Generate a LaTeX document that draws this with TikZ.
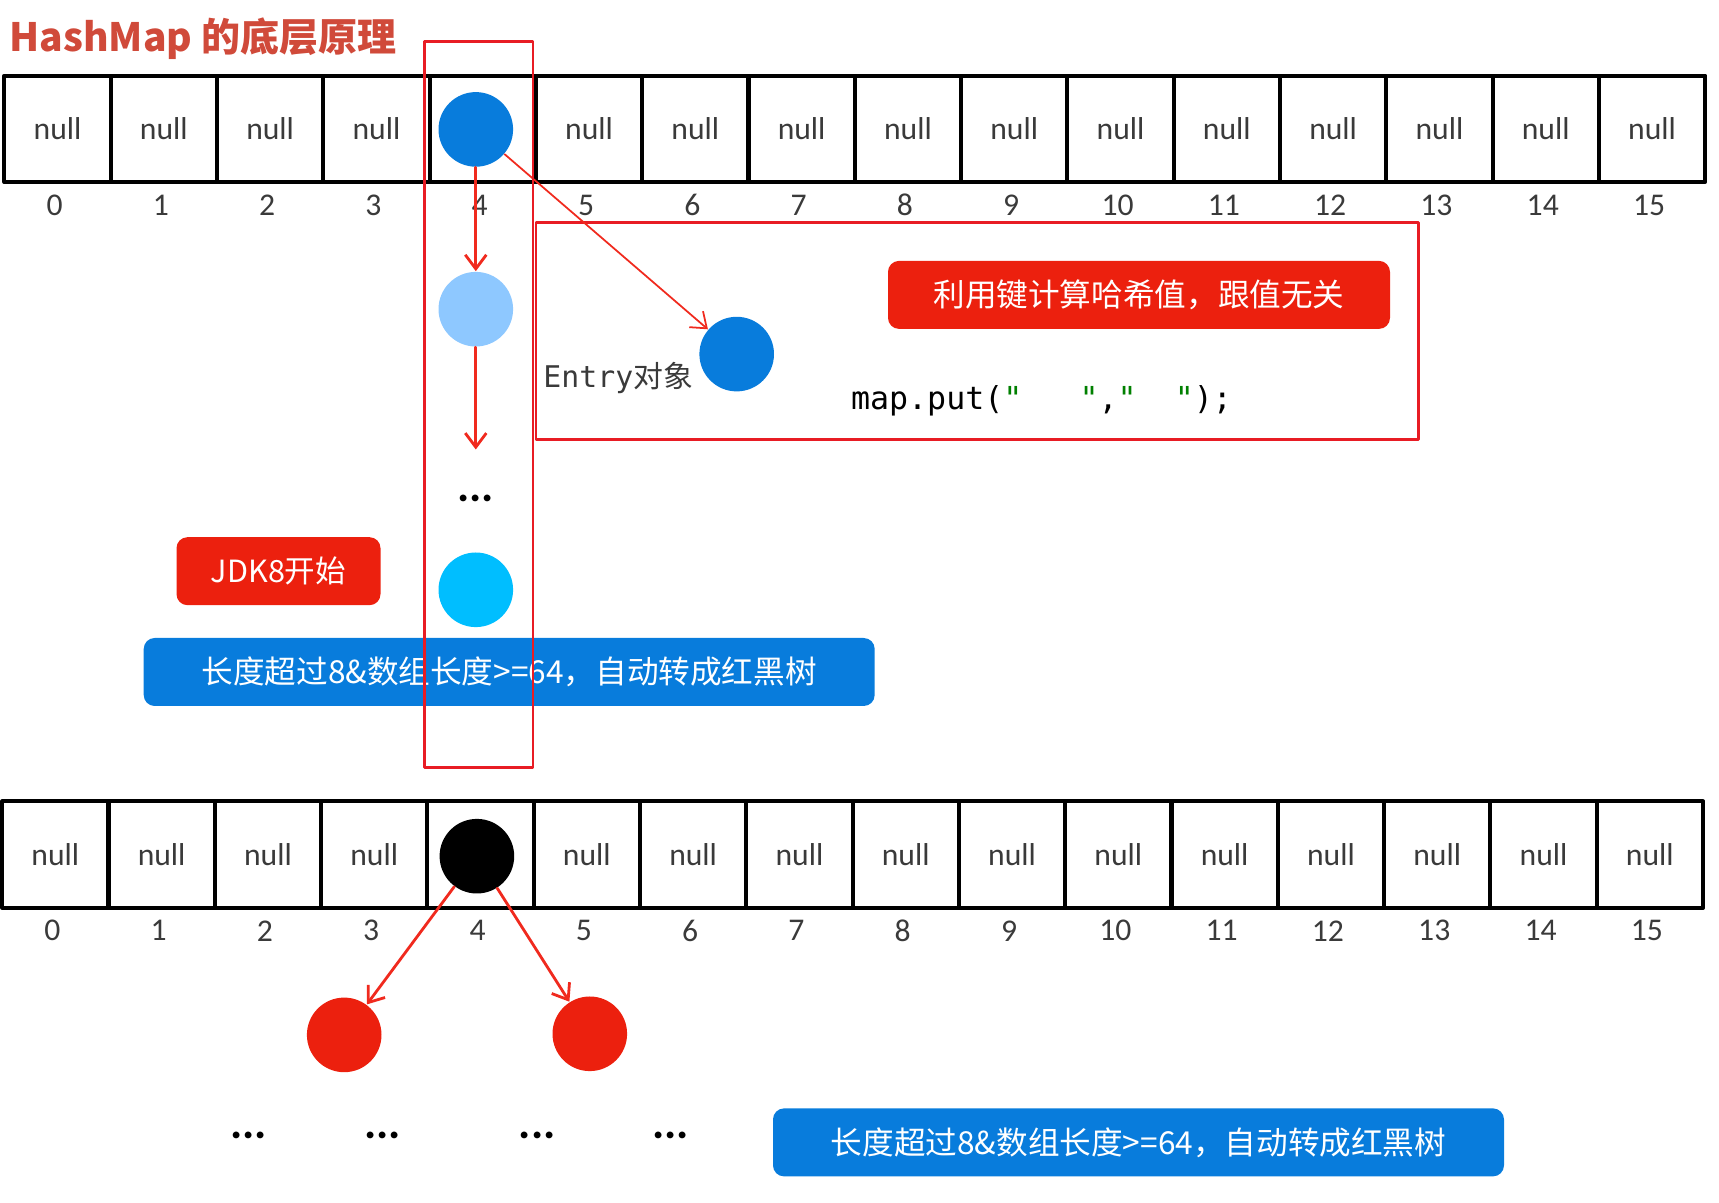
\documentclass[tikz,border=0pt]{standalone}
\usepackage{fontspec}
\setmainfont{Noto Sans CJK SC}
\setmonofont{DejaVu Sans Mono}
\newfontfamily\cellfont{Carlito}
\usepackage{tikz}
\usetikzlibrary{arrows.meta}
\definecolor{titlered}{RGB}{208,74,58}
\definecolor{boxred}{RGB}{236,32,14}
\definecolor{framered}{RGB}{232,28,36}
\definecolor{linkred}{RGB}{240,42,30}
\definecolor{nodeblue}{RGB}{8,124,220}
\definecolor{lightblue}{RGB}{142,200,255}
\definecolor{skyblue}{RGB}{0,190,255}
\definecolor{textgray}{RGB}{58,58,58}
\definecolor{codegreen}{RGB}{0,128,0}
\tikzset{
  every picture/.style={line join=round, line cap=round, >=Stealth},
  cell/.style={draw=black, line width=1.15pt, minimum size=1.063cm, inner sep=0pt, text=textgray, font=\cellfont\fontsize{9}{10}\selectfont},
  idx/.style={text=textgray, font=\cellfont\fontsize{9}{10}\selectfont},
  bucket/.style={circle, inner sep=0pt, minimum size=0.746cm},
  tag/.style={rounded corners=0.11cm, text=white, inner sep=0pt, minimum height=0.68cm},
  redframe/.style={draw=framered, line width=0.75pt, inner sep=0pt},
  link/.style={linkred, line width=0.8pt, -{Straight Barb[length=4pt,width=6pt]}},
  dots/.style={font=\cellfont\bfseries\fontsize{13}{13}\selectfont},
}

\begin{document}
\begin{tikzpicture}
\useasboundingbox (0,0) rectangle (17.19,12.03);
\node[anchor=west,inner sep=0pt,text=titlered,font=\bfseries\fontsize{11.1}{13}\selectfont] (title) at (0.088,11.646) {HashMap 的底层原理};
% table before the change
\foreach \i in {0,...,15} {
  \node[cell] (t\i) at ({0.5755+1.063*\i},10.742) {\ifnum\i=4 \else null\fi};
  \node[idx] (ti\i) at ({0.5455+1.063*\i},9.98) {\i};
}
\node[bucket,fill=nodeblue] (head) at (4.758,10.736) {};
\node[bucket,fill=lightblue] (second) at (4.758,8.938) {};
\coordinate (chainend) at (4.758,7.535);
\node[dots] (moredots) at (4.758,7.042) {...};
\node[bucket,fill=skyblue] (last) at (4.758,6.132) {};
\draw[link] (head) -- (second);
\draw[link] (second) -- (chainend);
% the new entry
\node[redframe,minimum width=8.825cm,minimum height=2.171cm] (info) at (9.774,8.72) {};
\node[tag,fill=boxred,minimum width=5.02cm,font=\fontsize{9}{11}\selectfont] (hashnote) at (11.39,9.081) {利用键计算哈希值，跟值无关};
\node[bucket,fill=nodeblue] (entry) at (7.367,8.489) {};
\node[anchor=west,inner sep=0pt,text=textgray,font=\fontsize{8.5}{10}\selectfont] (entrytxt) at (5.427,8.248) {{\ttfamily Entry}对象};
\node[font=\ttfamily\fontsize{9}{10}\selectfont] (code) at (10.415,8.018) {map.put(\textcolor{codegreen}{"\ \ \ "},\textcolor{codegreen}{"\ \ "});};
\draw[link,line width=0.5pt] (head) -- (entry);
% jdk8 notes
\node[tag,fill=boxred,minimum width=2.04cm,font=\fontsize{8.7}{11}\selectfont] (jdk) at (2.785,6.318) {JDK8开始};
\node[tag,fill=nodeblue,minimum width=7.31cm,font=\fontsize{9}{11}\selectfont] (treenote) at (5.092,5.31) {长度超过8\&数组长度>=64，自动转成红黑树};
\node[redframe,minimum width=1.085cm,minimum height=7.257cm] (slot) at (4.786,7.985) {};
% table after the change
\foreach \i in {0,...,15} {
  \node[cell] (b\i) at ({0.5535+1.063*\i},3.484) {\ifnum\i=4 \else null\fi};
  \node[idx] (bi\i) at ({0.5235+1.063*\i},2.722) {\i};
}
\node[bucket,fill=black] (root) at (4.769,3.468) {};
\node[bucket,fill=boxred] (leftkid) at (3.442,1.681) {};
\node[bucket,fill=boxred] (rightkid) at (5.898,1.692) {};
\draw[link] (root) -- (leftkid);
\draw[link] (root) -- (rightkid);
\node[dots] (d1) at (2.489,0.68) {...};
\node[dots] (d2) at (3.826,0.68) {...};
\node[dots] (d3) at (5.372,0.68) {...};
\node[dots] (d4) at (6.709,0.68) {...};
\node[tag,fill=nodeblue,minimum width=7.31cm,font=\fontsize{9}{11}\selectfont] (treenote2) at (11.385,0.606) {长度超过8\&数组长度>=64，自动转成红黑树};
\end{tikzpicture}
\end{document}
